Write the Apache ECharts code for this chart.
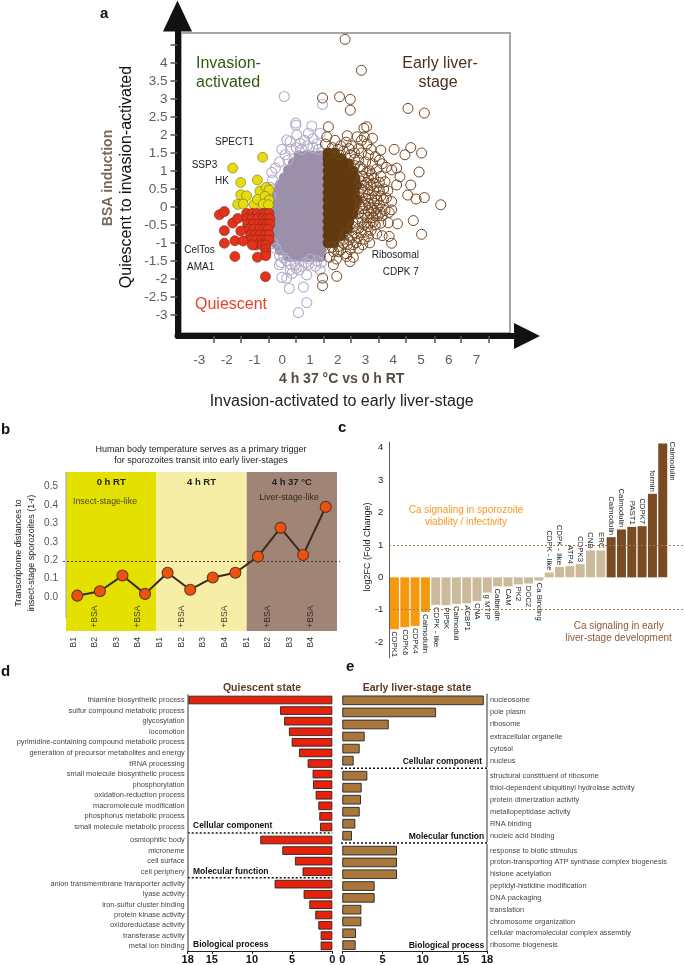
<!DOCTYPE html>
<html><head><meta charset="utf-8">
<style>html,body{margin:0;padding:0;background:#fff}#c{width:685px;height:965px}</style>
<script src="https://cdn.jsdelivr.net/npm/echarts@6/dist/echarts.min.js"></script>
</head><body><div id="c"></div>
<script>
// ---------- panel a ----------
const aXTicks=[-2.46,-1.5,-.48,.48,1.5,2.47,3.49,4.45,5.48,6.44,7.43];
const aXLabels=[-3,-2,-1,0,1,2,3,4,5,6,7];
const aYTicks=[-3,-2.5,-2,-1.5,-1,-.5,0,.5,1,1.5,2,2.5,3,3.5,4,4.5];
const aYLabels=[-3,-2.5,-2,-1.5,-1,-.5,0,.5,1,1.5,2,2.5,3,3.5,4];
const greyRows=[[1.42,[.6,.85,1.1,1.35]],[1.22,[.4,.62,.88,1.13,1.36]],[1.03,[.22,.47,.72,.97,1.2,1.41]],[.81,[.07,.3,.55,.8,1.05,1.3,1.42]],[.62,[-.08,.17,.42,.67,.92,1.17,1.4]],[.42,[-.2,.05,.3,.55,.8,1.05,1.3,1.42]],[.2,[-.27,-.02,.23,.48,.73,.98,1.23,1.42]],[.01,[-.3,-.05,.2,.45,.7,.95,1.2,1.42]],[-.2,[-.3,-.05,.2,.45,.7,.95,1.2,1.42]],[-.41,[-.3,-.04,.21,.46,.71,.96,1.21,1.42]],[-.6,[-.3,-.05,.2,.45,.7,.95,1.2,1.42]],[-.8,[-.29,-.04,.2,.45,.7,.95,1.2,1.42]],[-1,[-.25,0,.25,.5,.75,1,1.25,1.42]],[-1.2,[-.08,.17,.42,.67,.92,1.17,1.4]],[-1.38,[.2,.45,.7,.95,1.2,1.38]]];
const greyRings=[[.07,3.07],[1.45,2.85],[.48,2.33],[.49,2.27],[1.06,2.25],[.94,2.05],[.52,2],[1.36,2.05],[.16,1.86],[.28,1.82],[-.02,1.6],[.64,1.77],[-.38,.96],[-.25,1.08],[-.35,.75],[-.1,1.25],[.1,1.45],[.3,1.6],[.2,1.3],[.5,1.65],[.7,1.6],[.9,1.7],[1.1,1.65],[1.25,1.75],[.8,1.85],[1.1,1.9],[1.3,1.6],[-.45,.55],[-.42,.3],[-.11,-1.61],[-.02,-1.96],[.16,-1.98],[.25,-2.27],[.76,-2.23],[.88,-2.66],[.58,-2.94],[.88,-1.89],[.28,-1.75],[.46,-1.61],[.94,-1.6],[1.36,-1.75],[1.0,-1.45],[1.4,-1.55],[-.1,-1.35],[-.25,-1.15],[-.05,-1.55],[.15,-1.5],[.3,-1.6],[.5,-1.7],[.7,-1.65],[.85,-1.55],[1.2,-1.65],[.35,-1.85],[.6,-1.75],[-.33,-1.02],[.05,-1.42],[1.25,-1.5]];
const brownRows=[[1.5,[1.65,1.88]],[1.35,[1.65,1.9,2.12]],[1.2,[1.65,1.9,2.15,2.38]],[1,[1.65,1.9,2.15,2.4,2.55]],[.8,[1.65,1.9,2.15,2.4,2.62]],[.6,[1.65,1.9,2.15,2.4,2.68]],[.4,[1.65,1.9,2.15,2.4,2.6]],[.2,[1.65,1.9,2.15,2.4,2.7]],[0,[1.65,1.9,2.15,2.4,2.6]],[-.2,[1.65,1.9,2.15,2.4,2.55]],[-.4,[1.65,1.9,2.15,2.4]],[-.6,[1.65,1.9,2.15,2.35]],[-.8,[1.65,1.9,2.12]],[-1,[1.65,1.85]]];
const brownRings=[[2.26,4.66],[2.85,3.8],[1.45,3.03],[2.06,3.06],[2.45,2.99],[2.45,2.69],[4.53,2.74],[5.12,2.61],[5.71,.06],[5.12,.26],[4.82,.22],[4.52,.33],[4.63,.61],[4.93,.97],[5.02,1.5],[4.63,1.65],[4.42,1.45],[4.03,1.6],[3.55,1.58],[4.72,-.38],[5.02,-.76],[3.94,-1.01],[3.85,-.82],[4.15,-.47],[3.82,-.44],[3.94,-.08],[3.94,.15],[4.12,.61],[4.24,.84],[4.12,1.08],[3.94,1.03],[3.04,2.23],[2.94,2.19],[1.66,2.23],[2.34,1.98],[3.25,1.91],[1.96,-1.93],[1.45,-1.98],[1.45,-2.19],[1.84,-1.61],[2.44,-1.52],[2.56,-1.4],[2.32,-1.38],[2.02,-1.24],[1.6,1.95],[1.9,1.85],[2.1,1.7],[2.3,1.8],[2.5,1.7],[2.7,1.95],[2.85,1.85],[2.95,1.95],[3.05,1.75],[3.2,1.6],[2.6,1.5],[2.85,1.5],[3.1,1.45],[3.35,1.4],[2.75,1.3],[3,1.25],[3.25,1.2],[3.5,1.3],[2.6,1.15],[2.9,1.05],[3.15,1],[3.4,1.05],[3.6,1.2],[3.75,1.1],[2.9,.85],[3.1,.8],[3.3,.8],[3.55,.85],[3.7,.7],[2.95,.6],[3.2,.6],[3.4,.55],[3.65,.5],[3.8,.45],[2.9,.4],[3.1,.35],[3.35,.3],[3.55,.3],[3.75,.25],[2.85,.15],[3.1,.1],[3.3,.1],[3.5,.05],[3.65,.2],[2.9,-.05],[3.1,-.1],[3.3,-.1],[3.55,-.15],[3.7,-.1],[3.85,-.15],[2.85,-.3],[3.05,-.3],[3.25,-.3],[3.45,-.25],[3.6,-.25],[2.95,-.5],[3.15,-.45],[3.35,-.5],[3.55,-.45],[2.75,-.6],[3,-.7],[3.2,-.65],[3.4,-.75],[3.6,-.8],[2.3,-.75],[2.5,-.85],[2.7,-.85],[2.95,-.9],[3.15,-1],[2.35,-1.05],[2.55,-1.05],[2.75,-1.15],[1.85,-1.25],[2.1,-1.2],[2.3,-1.3],[1.7,-1.4],[1.95,-1.45],[2.05,1.45],[2.45,1.45],[1.55,1.75],[1.8,1.65],[2.8,1.12],[3.02,.95],[3.22,.9],[2.82,.72],[3.05,.68],[3.28,.66],[3.5,.68],[2.85,.5],[3.08,.48],[3.3,.44],[3.5,.45],[2.78,.28],[3,.24],[3.22,.22],[3.42,.18],[2.8,.02],[3,.04],[3.2,-.02],[3.42,-.04],[2.75,-.18],[2.97,-.2],[3.18,-.2],[3.38,-.18],[2.72,-.42],[2.88,-.42],[3.08,-.55],[3.28,-.42],[2.55,-.55],[2.6,-.72],[2.85,-.72],[3.1,-.82],[2.42,-.92],[2.66,-1],[2.9,-1.05],[2.2,-1.02],[2.02,-1.1],[2.2,-.9],[1.8,-1.12],[2.45,-1.18],[2.6,1.32],[2.4,1.62],[2.2,1.55],[2,1.6],[2.75,1.62]];
const yellowPts=[[-.71,1.38],[-1.79,1.08],[-1.5,.68],[-.9,.75],[-1.5,.34],[-1.29,.31],[-.81,.44],[-.59,.54],[-.48,.47],[-1.61,.07],[-1.41,.08],[-1.02,.07],[-.9,.21],[-.62,.29],[-.48,.19],[-.69,.08],[-.5,.06]];
const redRows=[[-.18,[-1.29,-1.08,-.9,-.72,-.6,-.48]],[-.33,[-1.29,-1.1,-.88,-.7,-.56,-.45]],[-.48,[-1.25,-1.05,-.85,-.68,-.55,-.45]],[-.62,[-1.2,-1.02,-.82,-.66,-.52]],[-.78,[-1.15,-.98,-.8,-.62,-.48]],[-.92,[-1.12,-.95,-.75,-.6,-.48]],[-1.06,[-.95,-.72,-.6]],[-1.18,[-.6]],[-1.28,[-.6]],[-1.36,[-.6]]];
const redPts=[[-2.27,-.22],[-2.09,-.13],[-1.79,-.45],[-1.61,-.32],[-2.09,-.66],[-1.5,-.67],[-2.09,-1.01],[-1.71,-.94],[-1.41,-.95],[-1.71,-1.38],[-.9,-1.4],[-.61,-1.94],[-1.08,-1.06]];
// ---------- panel b ----------
const bCats=['B1','B2','B3','B4','B1','B2','B3','B4','B1','B2','B3','B4'];
const bVals=[.006,.026,.097,.014,.11,.033,.088,.11,.183,.313,.19,.408];
const bTicks=[0,.0833,.1667,.25,.3333,.4167,.5];
const bThreshold=.163;
const bBands=['0 h RT','4 h RT','4 h 37 °C'];
const bBandColors=['#e4e000','#f6eea6','#a08476'];
const bBsaPos=[1,3,5,7,9,11];
// ---------- panel c ----------
const cCats=['CDPK1','CDPK6','CDPK4','Calmodulin','CDPK - like','PIP5K','Calmoduli','ACBP1','CNA','g MTIP','Calbindin','CAM','PK2','DOC2','Ca Binding','CDPK - like','CDPK - like','ATP4','CDPK3','CNB','ERC','Calmodulin','Calmodulin','PAST1','CDPK7','formin','Calmodulin'];
const cVals=[-1.6,-1.54,-1.5,-1.07,-.85,-.86,-.82,-.8,-.73,-.47,-.28,-.28,-.22,-.19,-.1,.15,.32,.35,.41,.83,.83,1.24,1.48,1.56,1.58,2.58,4.13];
// ---------- panel d ----------
const dCats=[['thiamine biosynthetic process','sulfur compound metabolic process','glycosylation','locomotion','pyrimidine-containing compound metabolic process','generation of precursor metabolites and energy','tRNA processing','small molecule biosynthetic process','phosphorylation','oxidation-reduction process','macromolecule modification','phosphorus metabolic process','small molecule metabolic process'],['osmiophilic body','microneme','cell surface','cell periphery'],['anion transmembrane transporter activity','lyase activity','iron-sulfur cluster binding','protein kinase activity','oxidoreductase activity','transferase activity','metal ion binding']];
const dVals=[[17.9,6.5,6,5.4,5.06,4.15,3.07,2.45,2.4,2.07,1.74,1.62,1.53],[8.96,6.22,4.65,3.7],[7.18,3.57,2.86,2.12,1.74,1.45,1.45]];
// ---------- panel e ----------
const eCats=[['nucleosome','pole plasm','ribosome','extracellular organelle','cytosol','nucleus'],['structural constituent of ribosome','thiol-dependent ubiquitinyl hydrolase activity','protein dimerization activity','metallopeptidase activity','RNA binding','nucleic acid binding'],['response to biotic stimulus','proton-transporting ATP synthase complex biogenesis','histone acetylation','peptidyl-histidine modification','DNA packaging','translation','chromosome organization','cellular macromolecular complex assembly','ribosome biogenesis']];
const eVals=[[17.6,11.66,5.77,2.78,2.16,1.41],[3.11,2.41,2.32,2.16,1.62,1.2],[6.8,6.8,6.8,4.02,4.02,2.37,2.37,1.7,1.66]];

const FF='"Liberation Sans",Arial,sans-serif';
const expand=rows=>rows.flatMap(([y,xs])=>xs.map(x=>[x,y]));
const T=(text,x,y,size,fill,o={})=>({type:'text',x,y,rotation:o.rot||0,z:o.z||10,style:{text,fill,font:(o.bold?'bold ':'')+size+'px '+FF,textAlign:o.align||'left',textVerticalAlign:'middle',verticalAlign:'middle',align:o.align||'left'}});
const HR=(x1,x2,y)=>({type:'line',z:10,shape:{x1,y1:y,x2,y2:y},style:{stroke:'#111',lineWidth:1.5,lineDash:[2,2]}});

const grid=[],xAxis=[],yAxis=[],series=[];
// a
grid.push({left:177.5,top:16,width:349.5,height:320});
const aXR={min:-3.78,max:8.82};
xAxis.push({gridIndex:0,type:'value',position:'bottom',...aXR,splitLine:{show:false},axisLine:{onZero:false,lineStyle:{color:'#111',width:6},symbol:['none','triangle'],symbolSize:[26,26]},axisTick:{customValues:aXTicks,length:7,lineStyle:{color:'#555',width:1.5}},axisLabel:{show:false}});
xAxis.push({gridIndex:0,type:'value',position:'bottom',...aXR,splitLine:{show:false},axisLine:{show:false,onZero:false},axisTick:{show:false},axisLabel:{customValues:aXLabels,margin:17,fontSize:13.5,color:'#6b5a50',fontFamily:FF}});
yAxis.push({gridIndex:0,type:'value',min:-3.59,max:5.31,splitLine:{show:false},axisLine:{onZero:false,lineStyle:{color:'#111',width:6},symbol:['none','triangle'],symbolSize:[29,31],symbolOffset:[0,0]},axisTick:{customValues:aYTicks,length:7,lineStyle:{color:'#555',width:1.5}},axisLabel:{customValues:aYLabels,margin:10,fontSize:13.5,color:'#6b5a50',fontFamily:FF}});
const sc=(name,data,size,st,z)=>({name,type:'scatter',xAxisIndex:0,yAxisIndex:0,data,symbolSize:size,itemStyle:{opacity:1,...st},z,silent:true,animation:false});
series.push(sc('greyCore',expand(greyRows),11,{color:'#9c8fa9'},2));
series.push(sc('greyRing',greyRings,10,{color:'rgba(0,0,0,0)',borderColor:'#b5aecb',borderWidth:1.1},2));
series.push(sc('brownCore',expand(brownRows),11,{color:'#623a12'},3));
series.push(sc('brownRing',brownRings,10,{color:'rgba(0,0,0,0)',borderColor:'#74471f',borderWidth:1},3));
series.push(sc('yellow',yellowPts,10,{color:'#e6dc0c',borderColor:'#5a5a20',borderWidth:.5},4));
series.push(sc('red',expand(redRows).concat(redPts),10,{color:'#e4331c',borderColor:'#7a2a1a',borderWidth:.6},5));
// b
grid.push({left:66,top:472,width:271,height:159});
const bMin=-.154,bMax=.566;
xAxis.push({gridIndex:1,type:'category',data:bCats,axisLine:{show:false},axisTick:{show:false},axisLabel:{show:false}});
xAxis.push({gridIndex:1,type:'value',min:0,max:3,show:false});
xAxis.push({gridIndex:1,type:'value',position:'bottom',min:-.338,max:12.2,splitLine:{show:false},axisLine:{show:false,onZero:false},axisTick:{show:false},axisLabel:{customValues:bCats.map((_,i)=>i),formatter:v=>bCats[v],rotate:90,margin:6,fontSize:8.5,color:'#333',fontFamily:FF}});
yAxis.push({gridIndex:1,type:'value',min:bMin,max:bMax,splitLine:{show:false},axisLine:{show:false},axisTick:{show:false},axisLabel:{customValues:bTicks,formatter:v=>v.toFixed(1),margin:8,fontSize:10,color:'#555',fontFamily:FF}});
series.push({type:'line',xAxisIndex:3,yAxisIndex:1,data:[],z:1,animation:false,markArea:{silent:true,animation:false,data:bBands.map((b,i)=>[{xAxis:i,yAxis:bMin,name:b,itemStyle:{color:bBandColors[i],opacity:1},label:{show:true,position:'insideTop',distance:5,color:'#222',fontWeight:'bold',fontSize:9.5,fontFamily:FF}},{xAxis:i+1,yAxis:bMax}])}});
series.push({type:'scatter',xAxisIndex:4,yAxisIndex:1,data:bBsaPos.map(k=>[k,-.089]),symbolSize:0,z:3,animation:false,label:{show:true,position:'inside',formatter:'+BSA',rotate:90,fontSize:8.5,color:'#111',fontFamily:FF}});
series.push({type:'line',xAxisIndex:2,yAxisIndex:1,data:bVals,z:4,animation:false,symbol:'circle',symbolSize:11,lineStyle:{color:'#3a2a20',width:2},itemStyle:{color:'#ee5010',borderColor:'#5a3a20',borderWidth:1.1},markLine:{silent:true,animation:false,symbol:'none',label:{show:false},lineStyle:{color:'#4a3a30',type:[2,2],width:1},data:[[{x:63,yAxis:bThreshold},{x:340,yAxis:bThreshold}]]}});
// c
grid.push({left:389.3,top:442,width:278.6,height:216});
xAxis.push({gridIndex:2,type:'category',data:cCats,axisLine:{show:false},axisTick:{show:false},axisLabel:{show:false}});
yAxis.push({gridIndex:2,type:'value',min:-2.49,max:4.18,splitLine:{show:false},axisLine:{onZero:false,show:true,lineStyle:{color:'#6b5a50',width:1}},axisTick:{customValues:[-2,-1,0,1,2,3,4],length:3,lineStyle:{color:'#6b5a50'}},axisLabel:{customValues:[-2,-1,0,1,2,3,4],margin:6,fontSize:9.5,color:'#222',fontFamily:FF}});
const cColor=i=>i<4?'#f6990e':i<21?'#cbbb9c':'#7a4a22';
series.push({type:'bar',xAxisIndex:5,yAxisIndex:2,barWidth:9,z:3,animation:false,
 data:cVals.map((v,i)=>{
  const last=i===cVals.length-1;
  return {value:v,name:cCats[i],itemStyle:{color:cColor(i)},label:{show:true,formatter:'{b}',position:v<0?'bottom':'top',rotate:-90,align:last||v<0?'left':'right',verticalAlign:'middle',distance:2,offset:last?[0,-9]:[0,0],fontSize:7.8,color:'#222',fontFamily:FF}};
 }),
 markLine:{silent:true,animation:false,symbol:'none',label:{show:false},lineStyle:{color:'#a87a50',type:[2,2],width:1},data:[[{x:389,yAxis:1},{x:685,yAxis:1}],[{x:389,yAxis:-1},{x:685,yAxis:-1}]]}});
// d & e
const group=(cats,vals,isD,top,h,showX,left,width)=>{
 const gi=grid.length; grid.push({left,top,width,height:h});
 const xi=xAxis.length, yi=yAxis.length;
 xAxis.push({gridIndex:gi,type:'value',position:'bottom',min:0,max:18,interval:5,inverse:isD,splitLine:{show:false},
  axisLine:{show:showX,onZero:false,lineStyle:{color:'#222',width:1}},axisTick:{show:showX,length:3,lineStyle:{color:'#222'}},axisLabel:{show:showX,margin:3,fontSize:11,fontWeight:'bold',color:'#111',fontFamily:FF}});
 yAxis.push({gridIndex:gi,type:'category',inverse:true,position:isD?'left':'right',data:cats,axisLine:{onZero:false,lineStyle:{color:'#777',width:1.5}},axisTick:{alignWithLabel:true,length:3,lineStyle:{color:'#444'}},axisLabel:{interval:0,margin:3,fontSize:7.4,color:'#444',fontFamily:FF}});
 series.push({type:'bar',xAxisIndex:xi,yAxisIndex:yi,data:vals,barWidth:isD?8.6:9.6,z:3,animation:false,itemStyle:{color:isD?'#e8220a':'#a9763c',borderColor:'#222',borderWidth:.9}});
};
const dTop=[694.7,834.7,879], dH=[137.6,42.3,74.3];
dCats.forEach((c,i)=>group(c,dVals[i],true,dTop[i],dH[i],i===2,187.7,144.6));
const eTop=[694.3,769.7,844.7], eH=[72.4,72,108.6];
eCats.forEach((c,i)=>group(c,eVals[i],false,eTop[i],eH[i],i===2,342.3,144.7));

const graphic={elements:[
 {type:'rect',z:0,shape:{x:181,y:33,width:329,height:300},style:{fill:'none',stroke:'#8a8a8a',lineWidth:1.5}},
 T('a',100,14,15,'#111',{bold:true}),T('b',1,430,15,'#111',{bold:true}),T('c',338,428,15,'#111',{bold:true}),T('d',1,672,15,'#111',{bold:true}),T('e',346,667,15,'#111',{bold:true}),
 T('Invasion-',196,64,16,'#2f5a10'),T('activated',196,83,16,'#2f5a10'),
 T('Early liver-',440,64,16,'#4a3020',{align:'center'}),T('stage',438,83,16,'#4a3020',{align:'center'}),
 T('Quiescent',195,305,16,'#e8402a'),
 T('SPECT1',215,142,10,'#222'),T('SSP3',191.7,165,10,'#222'),T('HK',215,181,10,'#222'),T('CelTos',184.3,250,10,'#222'),T('AMA1',187,267,10,'#222'),T('Ribosomal',371.7,255,10,'#222'),T('CDPK 7',382.7,272,10,'#222'),
 T('BSA induction',108,178,14,'#7a6a5e',{bold:true,rot:Math.PI/2,align:'center'}),
 T('Quiescent to invasion-activated',127,177,16,'#111',{rot:Math.PI/2,align:'center'}),
 T('4 h 37 °C vs 0 h RT',341.7,379,14,'#5a4a3f',{bold:true,align:'center'}),
 T('Invasion-activated to early liver-stage',341.7,401.7,16,'#222',{align:'center'}),
 T('Human body temperature serves as a primary trigger',201,450,9,'#222',{align:'center'}),
 T('for sporozoites transit into early liver-stages',201,461,9,'#222',{align:'center'}),
 T('Transcriptome distances to',19,553,9,'#222',{rot:Math.PI/2,align:'center'}),
 T('insect-stage sporozoites (1-r)',32,553,9,'#222',{rot:Math.PI/2,align:'center'}),
 T('Insect-stage-like',73,502,8.8,'#4a4a10'),T('Liver-stage-like',289,498,8.8,'#332a22',{align:'center'}),
 {type:'line',z:10,shape:{x1:66,y1:472,x2:66,y2:618},style:{stroke:'#9aa5cc',lineWidth:1}},
 T('Ca signaling in sporozoite',466,510,10,'#f39a1f',{align:'center'}),T('viability / infectivity',466,522,10,'#f39a1f',{align:'center'}),
 T('Ca signaling in early',618.7,626,10,'#8c5a34',{align:'center'}),T('liver-stage development',618.7,638,10,'#8c5a34',{align:'center'}),
 T('log2FC (Fold Change)',368,547,9,'#222',{rot:Math.PI/2,align:'center'}),
 T('Quiescent state',262,688,10.5,'#5b3a26',{bold:true,align:'center'}),T('Early liver-stage state',417,688,10.5,'#5b3a26',{bold:true,align:'center'}),
 T('Cellular component',193,826,8.5,'#111',{bold:true}),T('Molecular function',193,871.3,8.5,'#111',{bold:true}),T('Biological process',193,945,8.5,'#111',{bold:true}),
 T('Cellular component',482,762,8.5,'#111',{bold:true,align:'right'}),T('Molecular function',408.7,837,8.5,'#111',{bold:true}),T('Biological process',408.7,946,8.5,'#111',{bold:true}),
 HR(187.7,332.3,833),HR(187.7,332.3,877.7),HR(341,487,768.3),HR(341,487,843)
]};
const chart=echarts.init(document.getElementById('c'),null,{renderer:'canvas'});
chart.setOption({animation:false,backgroundColor:'#fff',textStyle:{fontFamily:FF},grid,xAxis,yAxis,series,graphic});
</script></body></html>
